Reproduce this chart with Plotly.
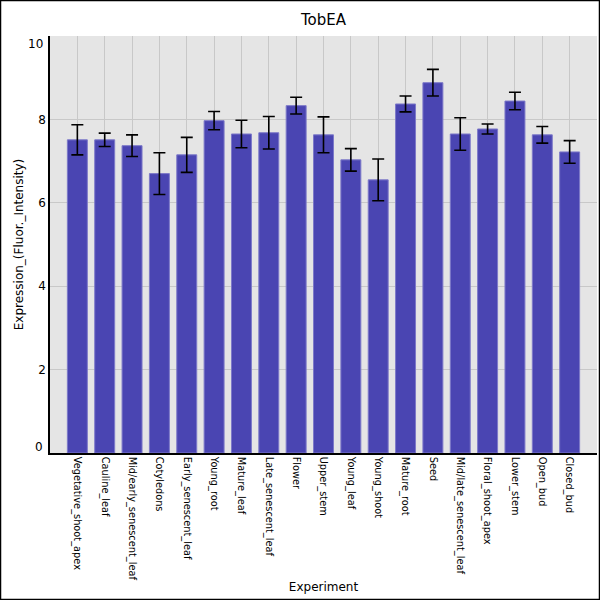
import plotly.graph_objects as go

categories = ["Vegetative_shoot_apex", "Cauline_leaf", "Mid/early_senescent_leaf", "Cotyledons",
              "Early_senescent_leaf", "Young_root", "Mature_leaf", "Late_senescent_leaf", "Flower",
              "Upper_stem", "Young_leaf", "Young_shoot", "Mature_root", "Seed",
              "Mid/late_senescent_leaf", "Floral_shoot_apex", "Lower_stem", "Open_bud", "Closed_bud"]
values = [7.51, 7.51, 7.37, 6.70, 7.15, 7.97, 7.65, 7.68, 8.33, 7.63, 7.03, 6.55, 8.37, 8.88,
          7.65, 7.77, 8.44, 7.63, 7.22]
errors = [0.36, 0.16, 0.26, 0.50, 0.42, 0.22, 0.33, 0.39, 0.20, 0.43, 0.27, 0.50, 0.19, 0.32,
          0.39, 0.12, 0.21, 0.20, 0.27]
y_ticks = [0, 2, 4, 6, 8, 10]

W, H = 600, 600
ml, mr, mt, mb = 50, 3, 36, 147
pw, ph = W - ml - mr, H - mt - mb
y_min, y_max = y_ticks[0], y_ticks[-1]

fig = go.Figure()
fig.add_trace(go.Bar(
    x=list(range(len(categories))), y=values, width=0.73,
    marker=dict(color="#4a45b2", line=dict(color="#7d79c9", width=1)),
    error_y=dict(type="data", array=errors, visible=True, color="black", thickness=1.6, width=6),
))

# inner tick labels (ends drawn as annotations nudged inside, like the reference)
ticktext = ["" if t in (y_min, y_max) else str(t) for t in y_ticks]
annotations = []
for t, shift in ((y_max, -8), (y_min, 6)):
    annotations.append(dict(x=0, xref="paper", xanchor="right", xshift=-5, y=t, yref="y",
                            yshift=shift, text=str(t), showarrow=False, font=dict(size=12)))

fig.update_layout(
    width=W, height=H,
    margin=dict(l=ml, r=mr, t=mt, b=mb),
    paper_bgcolor="white", plot_bgcolor="#e5e5e5",
    font=dict(family="DejaVu Sans", color="black"),
    title=dict(text="TobEA", x=(ml + pw / 2) / W, xanchor="center", y=1 - 20 / H, yanchor="middle",
               font=dict(size=15)),
    showlegend=False,
    xaxis=dict(range=[-1, len(categories)], tickmode="array", tickvals=list(range(len(categories))),
               ticktext=categories, tickangle=90, tickfont=dict(size=9.8),
               showgrid=True, gridcolor="#c8c8c8", gridwidth=1,
               showline=True, linecolor="black", linewidth=1.5, ticks="", zeroline=False,
               title=dict(text="Experiment", font=dict(size=12), standoff=3)),
    yaxis=dict(range=[y_min, y_max], tickmode="array", tickvals=y_ticks, ticktext=ticktext,
               tickfont=dict(size=12),
               showgrid=True, gridcolor="#c8c8c8", gridwidth=1,
               showline=True, linecolor="black", linewidth=1.5, ticks="", zeroline=False,
               title=dict(text="Expression_(Fluor._Intensity)", font=dict(size=12), standoff=12)),
    annotations=annotations,
    shapes=[dict(type="rect", xref="paper", yref="paper",
                 x0=(0.5 - ml) / pw, x1=(W - 0.5 - ml) / pw,
                 y0=(0.5 - mb) / ph, y1=(H - 0.5 - mb) / ph,
                 line=dict(color="black", width=1.5), fillcolor="rgba(0,0,0,0)", layer="above")],
)

fig.write_html("out.html", config={"displayModeBar": False},
               post_script="document.body.style.margin='0';document.body.style.padding='0';")
